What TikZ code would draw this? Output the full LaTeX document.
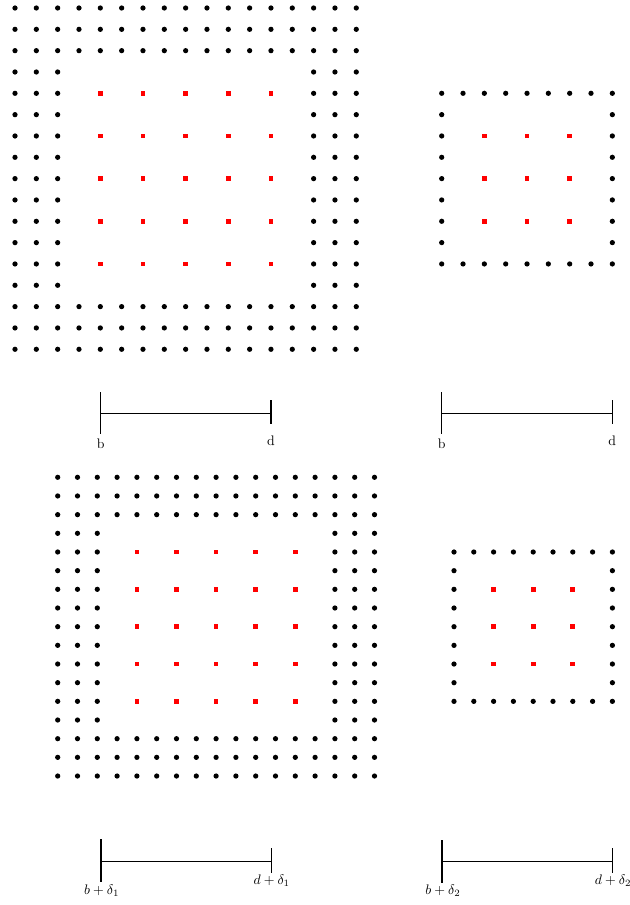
\documentclass[tikz,border=0pt]{standalone}
\begin{document}
\begin{tikzpicture}[x=0.7246pt,y=-0.7246pt,
  blackdot/.style={circle,fill=black,inner sep=0pt,minimum size=3.8pt},
  redsq/.style={rectangle,fill=red,inner sep=0pt,minimum size=3.4pt},
  barthin/.style={line width=0.72pt},
  barmid/.style={line width=0.9pt},
  tickthin/.style={line width=0.95pt},
  tickthick/.style={line width=1.45pt},
  lbl/.style={inner sep=0pt,anchor=base}]
\useasboundingbox (0,0) rectangle (630,905);

% ---- top-left grid (17x17, hollow) ----
\foreach \r in {0,...,16}{\foreach \c in {0,...,16}{
  \pgfmathtruncatemacro\edge{(\r<3)||(\r>13)||(\c<3)||(\c>13)}
  \ifnum\edge=1 \node[blackdot] (tl-\r-\c) at ({15+21.33*\c},{8+21.33*\r}) {};\fi
}}
\foreach \r in {4,6,...,12}{\foreach \c in {4,6,...,12}{
  \node[redsq] (tlr-\r-\c) at ({15+21.33*\c},{8+21.33*\r}) {};
}}

% ---- top-right grid (9x9 border) ----
\foreach \r in {0,...,8}{\foreach \c in {0,...,8}{
  \pgfmathtruncatemacro\edge{(\r==0)||(\r==8)||(\c==0)||(\c==8)}
  \ifnum\edge=1 \node[blackdot] (tr-\r-\c) at ({441.7+21.33*\c},{93.3+21.33*\r}) {};\fi
}}
\foreach \r in {2,4,6}{\foreach \c in {2,4,6}{
  \node[redsq] (trr-\r-\c) at ({441.7+21.33*\c},{93.3+21.33*\r}) {};
}}

% ---- bottom-left grid (17x17, hollow) ----
\foreach \r in {0,...,16}{\foreach \c in {0,...,16}{
  \pgfmathtruncatemacro\edge{(\r<3)||(\r>13)||(\c<3)||(\c>13)}
  \ifnum\edge=1 \node[blackdot] (bl-\r-\c) at ({57.7+19.8*\c},{477.3+18.67*\r}) {};\fi
}}
\foreach \r in {4,6,...,12}{\foreach \c in {4,6,...,12}{
  \node[redsq] (blr-\r-\c) at ({57.7+19.8*\c},{477.3+18.67*\r}) {};
}}

% ---- bottom-right grid (9x9 border) ----
\foreach \r in {0,...,8}{\foreach \c in {0,...,8}{
  \pgfmathtruncatemacro\edge{(\r==0)||(\r==8)||(\c==0)||(\c==8)}
  \ifnum\edge=1 \node[blackdot] (br-\r-\c) at ({454+19.8*\c},{552+18.67*\r}) {};\fi
}}
\foreach \r in {2,4,6}{\foreach \c in {2,4,6}{
  \node[redsq] (brr-\r-\c) at ({454+19.8*\c},{552+18.67*\r}) {};
}}

% ---- scale bar top-left ----
\coordinate (a1t) at (100.7,392.3);
\coordinate (a1b) at (100.7,434);
\coordinate (a1m) at (100.7,413.3);
\coordinate (a2t) at (271,400);
\coordinate (a2b) at (271,424.3);
\coordinate (a2m) at (271,413.3);
\draw[tickthin] (a1t) -- (a1b);
\draw[tickthin] (a2t) -- (a2b);
\draw[barthin] (a1m) -- (a2m);
\node[lbl] (a1l) at (100.7,448) {b};
\node[lbl] (a2l) at (271,445) {d};

% ---- scale bar top-right ----
\coordinate (b1t) at (441.7,392.3);
\coordinate (b1b) at (441.7,434);
\coordinate (b1m) at (441.7,413.3);
\coordinate (b2t) at (612.3,400);
\coordinate (b2b) at (612.3,424.3);
\coordinate (b2m) at (612.3,413.3);
\draw[tickthin] (b1t) -- (b1b);
\draw[tickthin] (b2t) -- (b2b);
\draw[barthin] (b1m) -- (b2m);
\node[lbl] (b1l) at (441.7,448) {b};
\node[lbl] (b2l) at (612.3,445) {d};

% ---- scale bar bottom-left ----
\coordinate (c1t) at (101,839.3);
\coordinate (c1b) at (101,882.3);
\coordinate (c1m) at (101,861.7);
\coordinate (c2t) at (271.7,848.3);
\coordinate (c2b) at (271.7,873.3);
\coordinate (c2m) at (271.7,861.7);
\draw[tickthick] (c1t) -- (c1b);
\draw[tickthin] (c2t) -- (c2b);
\draw[barmid] (c1m) -- (c2m);
\node[lbl] (c1l) at (101.7,894) {$b+\delta_1$};
\node[lbl] (c2l) at (271.7,884) {$d+\delta_1$};

% ---- scale bar bottom-right ----
\coordinate (d1t) at (442,840);
\coordinate (d1b) at (442,882.7);
\coordinate (d1m) at (442,861.7);
\coordinate (d2t) at (612.7,848);
\coordinate (d2b) at (612.7,873);
\coordinate (d2m) at (612.7,861.7);
\draw[tickthick] (d1t) -- (d1b);
\draw[tickthin] (d2t) -- (d2b);
\draw[barmid] (d1m) -- (d2m);
\node[lbl] (d1l) at (443,894) {$b+\delta_2$};
\node[lbl] (d2l) at (613,884) {$d+\delta_2$};
\end{tikzpicture}
\end{document}
